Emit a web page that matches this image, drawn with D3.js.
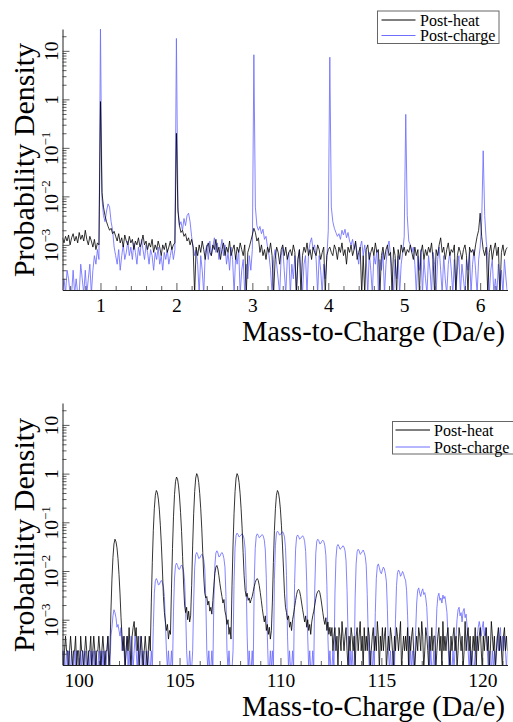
<!DOCTYPE html>
<html><head><meta charset="utf-8">
<script src="https://cdn.jsdelivr.net/npm/d3@7"></script>
<style>
html,body{margin:0;padding:0;background:#fff;}
svg{display:block;font-family:"Liberation Serif","Times New Roman",Times,serif;}
</style></head><body>
<svg id="chart" width="513" height="722"></svg>
<script>
// ---------------- DATA ----------------
const seriesNames = ["Post-heat", "Post-charge"];

// top panel: bins 0.50 .. 6.36 Da/e, step 0.02
const topMassStart = 0.5, topMassStep = 0.02;
const topPostHeat = [
14e-4,11e-4,15e-4,12e-4,16e-4,10e-4,14e-4,17e-4,12e-4,15e-4,
11e-4,18e-4,13e-4,16e-4,12e-4,20e-4,13e-4,10e-4,15e-4,12e-4,
9e-4,13e-4,8e-4,11e-4,10e-4,
0.9,
12e-3,6e-3,4e-3,3e-3,24e-4,20e-4,22e-4,17e-4,19e-4,15e-4,
12e-4,17e-4,11e-4,14e-4,9e-4,16e-4,12e-4,10e-4,15e-4,11e-4,
13e-4,8e-4,12e-4,10e-4,14e-4,9e-4,11e-4,16e-4,10e-4,12e-4,
8e-4,11e-4,9e-4,13e-4,7e-4,10e-4,8e-4,12e-4,9e-4,6e-4,
10e-4,8e-4,11e-4,7e-4,9e-4,12e-4,8e-4,10e-4,11e-4,
0.2,
5e-3,25e-4,18e-4,20e-4,15e-4,17e-4,12e-4,14e-4,10e-4,13e-4,9e-4,0,
9e-4,6e-4,10e-4,7e-4,12e-4,8e-4,5e-4,9e-4,11e-4,7e-4,
6e-4,10e-4,8e-4,13e-4,7e-4,9e-4,5e-4,8e-4,11e-4,6e-4,
9e-4,7e-4,12e-4,6e-4,8e-4,10e-4,5e-4,9e-4,7e-4,11e-4,
8e-4,6e-4,10e-4,0,7e-4,9e-4,12e-4,16e-4,
22e-4,18e-4,12e-4,14e-4,
7e-4,10e-4,6e-4,8e-4,5e-4,9e-4,7e-4,11e-4,6e-4,0,
5e-4,9e-4,7e-4,4e-4,8e-4,10e-4,6e-4,9e-4,5e-4,7e-4,
8e-4,6e-4,10e-4,7e-4,0,5e-4,8e-4,0,6e-4,9e-4,
7e-4,11e-4,6e-4,8e-4,5e-4,9e-4,7e-4,6e-4,10e-4,8e-4,
5e-4,7e-4,9e-4,0,6e-4,8e-4,9e-4,7e-4,
6e-4,10e-4,8e-4,5e-4,9e-4,7e-4,11e-4,6e-4,8e-4,4e-4,
9e-4,7e-4,10e-4,6e-4,8e-4,12e-4,5e-4,7e-4,9e-4,0,
6e-4,0,8e-4,10e-4,5e-4,7e-4,9e-4,6e-4,11e-4,7e-4,
8e-4,0,6e-4,9e-4,5e-4,8e-4,10e-4,6e-4,7e-4,0,
9e-4,6e-4,0,8e-4,5e-4,10e-4,7e-4,9e-4,6e-4,8e-4,7e-4,10e-4,
7e-4,5e-4,9e-4,6e-4,8e-4,0,7e-4,10e-4,5e-4,8e-4,
6e-4,9e-4,7e-4,11e-4,5e-4,0,8e-4,6e-4,10e-4,14e-4,
7e-4,9e-4,5e-4,8e-4,11e-4,6e-4,8e-4,7e-4,10e-4,0,
6e-4,9e-4,7e-4,5e-4,8e-4,10e-4,6e-4,0,9e-4,7e-4,
8e-4,6e-4,10e-4,15e-4,20e-4,45e-4,15e-4,8e-4,
6e-4,9e-4,0,7e-4,10e-4,5e-4,8e-4,11e-4,6e-4,9e-4,0,7e-4,10e-4,6e-4,8e-4,9e-4
];
const topPostCharge = [
0,2e-4,0,3e-4,2e-4,0,0,3e-4,0,2e-4,
0,0,4e-4,2e-4,0,3e-4,0,2e-4,4e-4,0,
3e-4,6e-4,4e-4,8e-4,5e-4,
30,
9e-3,4e-3,3e-3,5e-3,7e-3,6e-3,3e-3,2e-3,9e-4,6e-4,
4e-4,8e-4,3e-4,6e-4,10e-4,5e-4,7e-4,12e-4,6e-4,9e-4,
5e-4,11e-4,7e-4,4e-4,9e-4,6e-4,13e-4,8e-4,5e-4,10e-4,
7e-4,4e-4,8e-4,6e-4,3e-4,7e-4,5e-4,9e-4,4e-4,6e-4,
3e-4,7e-4,5e-4,8e-4,4e-4,6e-4,9e-4,5e-4,8e-4,
18,
6e-3,25e-4,3e-3,2e-3,35e-4,25e-4,40e-4,45e-4,30e-4,15e-4,9e-4,6e-4,
8e-4,4e-4,0,6e-4,3e-4,0,7e-4,10e-4,5e-4,12e-4,
6e-4,9e-4,14e-4,7e-4,11e-4,5e-4,8e-4,13e-4,6e-4,10e-4,
4e-4,7e-4,3e-4,9e-4,5e-4,0,6e-4,4e-4,8e-4,0,
3e-4,5e-4,0,4e-4,2e-4,6e-4,3e-4,8e-4,
8.3,
6e-3,25e-4,20e-4,24e-4,17e-4,21e-4,13e-4,15e-4,9e-4,
6e-4,3e-4,0,5e-4,8e-4,4e-4,2e-4,0,6e-4,9e-4,
3e-4,0,5e-4,7e-4,0,4e-4,2e-4,6e-4,0,5e-4,
8e-4,3e-4,0,4e-4,6e-4,0,7e-4,11e-4,14e-4,8e-4,
10e-4,5e-4,0,6e-4,3e-4,0,4e-4,2e-4,5e-4,20e-4,
7.4,
6e-3,3e-3,22e-4,18e-4,15e-4,17e-4,13e-4,20e-4,16e-4,21e-4,14e-4,18e-4,12e-4,10e-4,13e-4,8e-4,11e-4,
7e-4,4e-4,9e-4,12e-4,6e-4,10e-4,5e-4,0,7e-4,3e-4,
0,6e-4,4e-4,8e-4,0,5e-4,3e-4,7e-4,0,4e-4,
9e-4,12e-4,6e-4,3e-4,0,5e-4,2e-4,6e-4,0,4e-4,7e-4,
15e-4,0.49,4e-3,12e-4,
10e-4,7e-4,9e-4,4e-4,0,6e-4,3e-4,8e-4,0,5e-4,2e-4,0,
6e-4,3e-4,0,7e-4,4e-4,0,5e-4,9e-4,3e-4,0,6e-4,2e-4,0,4e-4,7e-4,3e-4,0,5e-4,0,3e-4,
6e-4,0,4e-4,2e-4,0,5e-4,3e-4,7e-4,0,4e-4,8e-4,3e-4,0,5e-4,9e-4,
3e-3,0.087,4e-3,12e-4,
6e-4,0,3e-4,5e-4,0,2e-4,0,4e-4,0,3e-4,0,5e-4,2e-4,0
];

// bottom panel: bins 99.20 .. 121.25 Da/e, step 0.05
const bottomMassStart = 99.2, bottomMassStep = 0.05;
const bottomPostHeat = [
23e-5,0,23e-5,46e-5,23e-5,23e-5,0,23e-5,46e-5,23e-5,
0,23e-5,23e-5,46e-5,0,23e-5,23e-5,0,46e-5,23e-5,
23e-5,0,23e-5,46e-5,23e-5,0,23e-5,23e-5,46e-5,0,
23e-5,46e-5,23e-5,0,23e-5,23e-5,46e-5,23e-5,0,23e-5,
46e-5,23e-5,0,23e-5,23e-5,46e-5,0,
23e-5,
15e-4,68e-4,0.019,0.036,0.045,0.04,0.03,0.018,85e-4,34e-4,11e-4,46e-5,
23e-5,46e-5,0,23e-5,46e-5,23e-5,69e-5,23e-5,0,46e-5,
69e-5,92e-5,46e-5,69e-5,23e-5,46e-5,0,23e-5,46e-5,23e-5,
0,23e-5,46e-5,23e-5,0,23e-5,46e-5,23e-5,
23e-4,0.015,0.068,0.19,0.36,0.45,0.41,0.30,0.18,0.085,0.034,0.011,3e-3,14e-4,
9e-4,6e-4,8e-4,4e-4,6e-4,5e-4,
43e-4,0.029,0.13,0.37,0.69,0.85,0.77,0.56,0.33,0.16,0.065,0.02,54e-4,20e-4,
14e-4,18e-4,10e-4,15e-4,9e-4,12e-4,
50e-4,0.034,0.15,0.43,0.81,1.0,0.90,0.66,0.39,0.19,0.076,0.024,75e-4,35e-4,
28e-4,30e-4,20e-4,24e-4,15e-4,18e-4,13e-4,
25e-4,5e-3,9e-3,0.012,0.013,0.011,8e-3,55e-4,4e-3,30e-4,
22e-4,26e-4,15e-4,12e-4,8e-4,10e-4,5e-4,7e-4,4e-4,
50e-4,0.034,0.15,0.43,0.81,1.0,0.90,0.66,0.39,0.19,0.076,0.024,8e-3,40e-4,
30e-4,35e-4,25e-4,28e-4,22e-4,
26e-4,30e-4,38e-4,48e-4,58e-4,66e-4,70e-4,64e-4,50e-4,36e-4,25e-4,17e-4,12e-4,
9e-4,12e-4,6e-4,8e-4,5e-4,7e-4,4e-4,6e-4,
23e-4,0.015,0.068,0.19,0.36,0.45,0.41,0.30,0.18,0.085,0.034,0.011,35e-4,18e-4,
14e-4,10e-4,12e-4,7e-4,9e-4,6e-4,
10e-4,13e-4,18e-4,25e-4,33e-4,40e-4,42e-4,38e-4,30e-4,22e-4,16e-4,12e-4,
9e-4,12e-4,7e-4,10e-4,6e-4,8e-4,5e-4,9e-4,
12e-4,15e-4,20e-4,27e-4,34e-4,38e-4,40e-4,36e-4,28e-4,20e-4,14e-4,10e-4,
8e-4,11e-4,6e-4,9e-4,5e-4,7e-4,46e-5,69e-5,23e-5,46e-5,
69e-5,23e-5,46e-5,0,69e-5,46e-5,23e-5,92e-5,46e-5,23e-5,
46e-5,69e-5,23e-5,0,46e-5,23e-5,69e-5,46e-5,23e-5,46e-5,
0,46e-5,69e-5,23e-5,46e-5,92e-5,23e-5,46e-5,0,69e-5,
23e-5,46e-5,23e-5,69e-5,46e-5,0,23e-5,46e-5,69e-5,23e-5,
46e-5,23e-5,92e-5,46e-5,0,46e-5,23e-5,69e-5,23e-5,46e-5,
69e-5,0,23e-5,46e-5,23e-5,69e-5,46e-5,23e-5,0,46e-5,
23e-5,69e-5,46e-5,23e-5,46e-5,92e-5,0,23e-5,46e-5,23e-5,
46e-5,23e-5,69e-5,0,46e-5,23e-5,46e-5,69e-5,23e-5,0,
23e-5,46e-5,23e-5,69e-5,46e-5,23e-5,92e-5,46e-5,0,23e-5,
69e-5,46e-5,23e-5,0,46e-5,23e-5,69e-5,23e-5,46e-5,46e-5,
0,23e-5,46e-5,69e-5,23e-5,46e-5,0,92e-5,23e-5,46e-5,
23e-5,46e-5,69e-5,23e-5,0,46e-5,23e-5,46e-5,69e-5,23e-5,
46e-5,0,23e-5,69e-5,46e-5,23e-5,46e-5,0,23e-5,92e-5,
23e-5,46e-5,69e-5,23e-5,46e-5,0,23e-5,46e-5,23e-5,69e-5,
0,46e-5,23e-5,46e-5,69e-5,23e-5,0,46e-5,23e-5,46e-5,
69e-5,23e-5,46e-5,0,23e-5,92e-5,46e-5,23e-5,46e-5,0,
23e-5,46e-5,69e-5,23e-5,46e-5,23e-5,0,46e-5,69e-5,23e-5,
46e-5,23e-5
];
const bottomPostCharge = [
0,23e-5,0,0,23e-5,0,23e-5,0,0,23e-5,
0,0,23e-5,0,23e-5,23e-5,0,0,23e-5,0,
23e-5,0,0,23e-5,0,0,23e-5,0,23e-5,0,
0,23e-5,0,23e-5,0,0,23e-5,0,23e-5,0,
23e-5,0,23e-5,0,23e-5,46e-5,23e-5,0,
46e-5,69e-5,12e-4,16e-4,14e-4,11e-4,7e-4,8e-4,6e-4,46e-5,69e-5,23e-5,
46e-5,23e-5,0,23e-5,46e-5,0,23e-5,0,46e-5,23e-5,
0,23e-5,46e-5,23e-5,0,23e-5,0,46e-5,23e-5,0,
23e-5,0,0,23e-5,0,23e-5,0,0,23e-5,0,
7e-4,35e-4,63e-4,70e-4,63e-4,52e-4,53e-4,60e-4,64e-4,58e-4,48e-4,30e-4,8e-4,23e-5,
0,23e-5,0,0,23e-5,0,
15e-4,72e-4,0.013,0.0145,0.013,0.011,0.0108,0.0123,0.0133,0.0122,0.01,62e-4,17e-4,23e-5,
0,0,23e-5,0,0,23e-5,
24e-4,0.012,0.0216,0.024,0.0216,0.018,0.0185,0.0205,0.022,0.0205,0.017,0.011,28e-4,23e-5,
0,23e-5,0,0,23e-5,0,
26e-4,0.013,0.0234,0.026,0.0235,0.0195,0.02,0.0225,0.024,0.022,0.018,0.012,3e-3,23e-5,
0,23e-5,0,0,0,23e-5,
6e-3,0.03,0.054,0.06,0.056,0.05,0.052,0.055,0.058,0.054,0.045,0.028,7e-3,46e-5,
0,23e-5,0,0,23e-5,0,
58e-4,0.029,0.052,0.058,0.054,0.048,0.05,0.054,0.056,0.052,0.043,0.027,7e-3,46e-5,
0,0,23e-5,0,23e-5,0,
66e-4,0.033,0.06,0.066,0.062,0.055,0.056,0.06,0.064,0.06,0.05,0.03,8e-3,46e-5,
0,23e-5,0,0,23e-5,0,
55e-4,0.028,0.05,0.055,0.051,0.045,0.047,0.05,0.053,0.049,0.04,0.025,6e-3,46e-5,
0,23e-5,0,0,23e-5,0,
45e-4,0.023,0.041,0.045,0.042,0.036,0.037,0.041,0.043,0.04,0.033,0.021,5e-3,46e-5,
0,23e-5,0,0,23e-5,0,
35e-4,0.018,0.032,0.035,0.032,0.028,0.029,0.031,0.033,0.031,0.026,0.016,4e-3,46e-5,
0,23e-5,0,23e-5,0,0,
28e-4,0.014,0.025,0.028,0.026,0.022,0.023,0.025,0.027,0.024,0.02,0.013,33e-4,46e-5,
0,23e-5,0,0,23e-5,0,
14e-4,7e-3,0.0126,0.014,0.0118,0.0095,0.0088,0.0105,0.012,0.011,0.0088,6e-3,16e-4,23e-5,
0,23e-5,0,0,23e-5,0,
1e-3,5e-3,0.0092,0.0105,0.0095,0.0078,0.0085,0.0098,0.0088,0.0072,0.0065,4e-3,12e-4,23e-5,
0,23e-5,0,23e-5,0,0,
6e-4,22e-4,40e-4,45e-4,35e-4,30e-4,38e-4,43e-4,33e-4,36e-4,28e-4,18e-4,6e-4,23e-5,
0,23e-5,0,0,23e-5,0,
46e-5,17e-4,30e-4,35e-4,25e-4,28e-4,22e-4,32e-4,27e-4,30e-4,21e-4,14e-4,46e-5,0,
23e-5,0,0,23e-5,0,23e-5,
46e-5,10e-4,16e-4,18e-4,12e-4,14e-4,9e-4,15e-4,17e-4,11e-4,13e-4,7e-4,23e-5,0,
23e-5,0,23e-5,0,0,23e-5,
23e-5,46e-5,69e-5,92e-5,69e-5,46e-5,69e-5,92e-5,46e-5,69e-5,46e-5,23e-5,0,23e-5,
0,0,23e-5,0,23e-5,0,
23e-5,46e-5,23e-5,46e-5,69e-5,23e-5,46e-5,23e-5,46e-5,23e-5,0,23e-5
];

const topMajorTicks = [1, 2, 3, 4, 5, 6];
const topMinorTicks = [0.6,0.8,1.2,1.4,1.6,1.8,2.2,2.4,2.6,2.8,3.2,3.4,3.6,3.8,4.2,4.4,4.6,4.8,5.2,5.4,5.6,5.8,6.2];
const bottomMajorTicks = [100, 105, 110, 115, 120];
const bottomMinorTicks = [101,102,103,104,106,107,108,109,111,112,113,114,116,117,118,119,121];
const yMajorTicks = [1e-3, 1e-2, 1e-1, 1, 10];
const yTickBase = ["10", "10", "10", "1", "10"];
const yTickExp = ["−3", "−2", "−1", "", ""];
const yMinorTicks = [2e-4,3e-4,4e-4,5e-4,6e-4,7e-4,8e-4,9e-4,
  2e-3,3e-3,4e-3,5e-3,6e-3,7e-3,8e-3,9e-3,
  2e-2,3e-2,4e-2,5e-2,6e-2,7e-2,8e-2,9e-2,
  0.2,0.3,0.4,0.5,0.6,0.7,0.8,0.9, 2,3,4,5,6,7,8,9, 20];
const yTitle = "Probability Density";
const xTitle = "Mass-to-Charge (Da/e)";

// ---------------- DRAW ----------------
const svg = d3.select("#chart");
const colors = ["#000000", "#6e6eff"];
const yDomain = [Math.pow(10, -3.93), Math.pow(10, 1.45)];

const panels = [
  { id: "top", start: topMassStart, step: topMassStep, heat: topPostHeat, charge: topPostCharge,
    xDomain: [0.5, 6.36], left: 62.5, right: 507.5, top: 29, bottom: 290,
    major: topMajorTicks, minor: topMinorTicks, fmt: d3.format("d"),
    legend: { x: 377.5, y: 11, w: 121.5, h: 32.5, lx0: 381.5, lx1: 415.5, tx: 420, rows: [20, 35.5] },
    yTitleY: 160, xTitleY: 341 },
  { id: "bottom", start: bottomMassStart, step: bottomMassStep, heat: bottomPostHeat, charge: bottomPostCharge,
    xDomain: [99.2, 121.25], left: 62.5, right: 507.5, top: 403, bottom: 665,
    major: bottomMajorTicks, minor: bottomMinorTicks, fmt: d3.format("d"),
    legend: { x: 392.5, y: 421.5, w: 123, h: 32.5, lx0: 395.5, lx1: 430, tx: 434, rows: [430, 447] },
    yTitleY: 535, xTitleY: 716 }
];

panels.forEach(p => {
  const mass = p.heat.map((_, i) => +(p.start + i * p.step).toFixed(3));
  const x = d3.scaleLinear().domain(p.xDomain).range([p.left, p.right]);
  const y = d3.scaleLog().domain(yDomain).range([p.bottom, p.top]);
  const g = svg.append("g");

  svg.append("clipPath").attr("id", "clip-" + p.id)
    .append("rect").attr("x", p.left).attr("y", p.top)
    .attr("width", p.right - p.left).attr("height", p.bottom - p.top);

  const line = d3.line()
    .x((d, i) => x(mass[i]))
    .y(d => d > 0 ? y(d) : p.bottom + 4);

  const plot = g.append("g").attr("clip-path", "url(#clip-" + p.id + ")");
  plot.append("path").datum(p.charge).attr("d", line)
    .attr("fill", "none").attr("stroke", colors[1]).attr("stroke-width", 0.85);
  plot.append("path").datum(p.heat).attr("d", line)
    .attr("fill", "none").attr("stroke", colors[0]).attr("stroke-width", 0.8);

  // x axis (ticks pointing inward)
  const xMajor = d3.axisBottom(x).tickValues(p.major).tickSizeInner(-7).tickSizeOuter(0).tickFormat(p.fmt);
  const xMinor = d3.axisBottom(x).tickValues(p.minor).tickSizeInner(-4).tickSizeOuter(0).tickFormat("");
  const gxMinor = g.append("g").attr("transform", `translate(0,${p.bottom})`).call(xMinor);
  gxMinor.select(".domain").remove();
  const gx = g.append("g").attr("transform", `translate(0,${p.bottom})`).call(xMajor);
  gx.selectAll("text").attr("y", 22).attr("dy", 0)
    .style("font-size", "19.5px").style("font-family", "Liberation Serif").attr("fill", "#000");

  // y axis
  const yMinor = d3.axisLeft(y).tickValues(yMinorTicks).tickSizeInner(-4).tickSizeOuter(0).tickFormat("");
  const gyMinor = g.append("g").attr("transform", `translate(${p.left},0)`).call(yMinor);
  gyMinor.select(".domain").remove();
  const yAxis = d3.axisLeft(y).tickValues(yMajorTicks).tickSizeInner(-7).tickSizeOuter(0).tickFormat("");
  const gy = g.append("g").attr("transform", `translate(${p.left},0)`).call(yAxis);
  gy.selectAll(".tick").each(function(d) {
    const t = d3.select(this).select("text");
    t.attr("x", 0).attr("y", 0).attr("dy", 0)
      .attr("transform", "translate(-4.5,0) rotate(-90)")
      .attr("text-anchor", "middle")
      .style("font-size", "19.5px").style("font-family", "Liberation Serif").attr("fill", "#000");
    const k = yMajorTicks.indexOf(d);
    t.text(null);
    t.append("tspan").text(yTickBase[k]);
    if (yTickExp[k]) t.append("tspan").attr("dy", -8).style("font-size", "13px").text(yTickExp[k]);
  });

  [gx, gy, gxMinor, gyMinor].forEach(a => {
    a.selectAll(".tick line").attr("stroke", "#333").attr("stroke-width", 0.8);
    a.select(".domain").attr("stroke", "#222").attr("stroke-width", 1);
  });

  // titles
  g.append("text").attr("transform", `translate(34,${p.yTitleY}) rotate(-90)`)
    .attr("text-anchor", "middle").style("font-size", "30px").text(yTitle);
  g.append("text").attr("x", 505).attr("y", p.xTitleY)
    .attr("text-anchor", "end").style("font-size", "28.5px").text(xTitle);

  // legend
  const L = p.legend;
  const lg = g.append("g");
  lg.append("rect").attr("x", L.x).attr("y", L.y).attr("width", L.w).attr("height", L.h)
    .attr("fill", "#fff").attr("stroke", "#666").attr("stroke-width", 1);
  seriesNames.forEach((name, i) => {
    lg.append("line").attr("x1", L.lx0).attr("x2", L.lx1).attr("y1", L.rows[i]).attr("y2", L.rows[i])
      .attr("stroke", colors[i]).attr("stroke-width", 1);
    lg.append("text").attr("x", L.tx).attr("y", L.rows[i] + 5.5)
      .style("font-size", "16px").text(name);
  });
});
</script>
</body></html>
